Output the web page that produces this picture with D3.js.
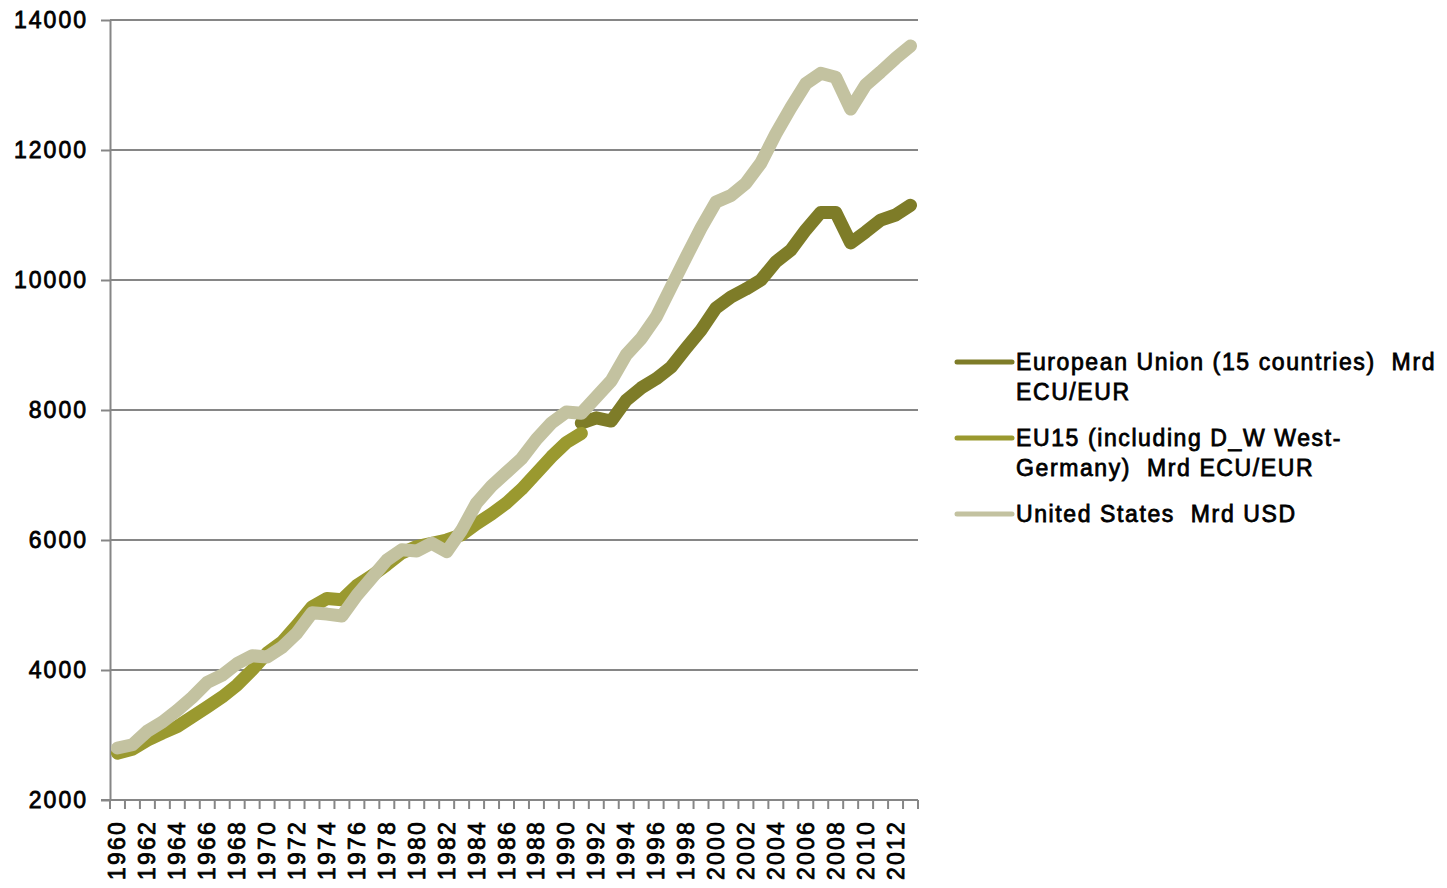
<!DOCTYPE html>
<html><head><meta charset="utf-8">
<script src="https://cdn.jsdelivr.net/npm/d3@7"></script>
<style>html,body{margin:0;padding:0;background:#fff;}svg{display:block;}text{white-space:pre;}</style>
</head><body>
<svg id="chart" width="1447" height="888"></svg>
<script>
const years = d3.range(1960, 2014);
const seriesNames = ["European Union (15 countries)  Mrd ECU/EUR", "EU15 (including D_W West-Germany)  Mrd ECU/EUR", "United States  Mrd USD"];
const legendLines = [["European Union (15 countries)  Mrd", "ECU/EUR"], ["EU15 (including D_W West-", "Germany)  Mrd ECU/EUR"], ["United States  Mrd USD"]];
const colors = ["#7e7c28", "#9a992f", "#c3c2a0"];
// EU (15 countries), 1991-2013
const euYears = d3.range(1991, 2014);
const euValues = [7800, 7880, 7830, 8150, 8340, 8480, 8660, 8950, 9230, 9570, 9740, 9860, 10000, 10280, 10460, 10770, 11040, 11040, 10570, 10740, 10920, 11000, 11150];
// EU15 incl. West Germany, 1960-1991
const eu15Years = d3.range(1960, 1992);
const eu15Values = [2720, 2780, 2920, 3030, 3130, 3280, 3430, 3585, 3770, 4000, 4260, 4430, 4690, 4970, 5100, 5080, 5300, 5450, 5620, 5800, 5900, 5950, 6000, 6080, 6250, 6400, 6570, 6780, 7030, 7280, 7500, 7640];
// United States, 1960-2013
const usValues = [2800, 2850, 3060, 3200, 3380, 3580, 3810, 3920, 4100, 4220, 4200, 4350, 4570, 4880, 4860, 4830, 5150, 5420, 5690, 5850, 5830, 5950, 5820, 6150, 6570, 6830, 7040, 7250, 7550, 7800, 7970, 7950, 8200, 8450, 8850, 9100, 9430, 9890, 10350, 10800, 11200, 11300, 11490, 11800, 12250, 12650, 13020, 13180, 13120, 12630, 13000, 13200, 13410, 13600];
const yTicks = [2000, 4000, 6000, 8000, 10000, 12000, 14000];
const xTickLabels = years.filter(y => (y - 1960) % 2 === 0);

const svg = d3.select("#chart");
const mLeft = 110, mRight = 918, mTop = 20, mBottom = 800;
const x = d3.scaleBand().domain(years).range([mLeft, mRight]);
const y = d3.scaleLinear().domain([2000, 14000]).range([mBottom, mTop]);
const fontFam = "'Liberation Sans', Arial, sans-serif";
const grid = "#868686";
const txtStroke = 0.8;

// gridlines
svg.append("g").selectAll("line").data(yTicks.slice(1)).join("line")
  .attr("x1", mLeft).attr("x2", mRight).attr("y1", d => y(d)).attr("y2", d => y(d))
  .attr("stroke", grid).attr("stroke-width", 2);

// y axis
const yAxis = svg.append("g").attr("transform", `translate(${mLeft},0)`)
  .call(d3.axisLeft(y).tickValues(yTicks).tickSize(9).tickSizeOuter(0).tickPadding(13).tickFormat(d3.format("d")));
yAxis.select(".domain").attr("stroke", grid).attr("stroke-width", 2);
yAxis.selectAll(".tick line").attr("stroke", grid).attr("stroke-width", 2);
yAxis.selectAll(".tick text").attr("font-family", fontFam).attr("font-size", 23)
  .attr("letter-spacing", "2px").attr("fill", "#000").attr("stroke", "#000").attr("stroke-width", txtStroke);

// x axis
const xAxis = svg.append("g").attr("transform", `translate(0,${mBottom})`)
  .call(d3.axisBottom(x).tickValues([]).tickSizeOuter(0));
xAxis.select(".domain").attr("stroke", grid).attr("stroke-width", 2).attr("d", `M${mLeft - 9},0H${mRight}`);
// year boundary ticks
svg.append("g").selectAll("line").data(years.concat([2014])).join("line")
  .attr("x1", d => d === 2014 ? mRight : x(d)).attr("x2", d => d === 2014 ? mRight : x(d))
  .attr("y1", mBottom).attr("y2", mBottom + 9).attr("stroke", grid).attr("stroke-width", 2);
svg.append("g").selectAll("text").data(xTickLabels).join("text")
  .attr("transform", d => `translate(${x(d) + x.bandwidth() / 2},${mBottom + 20}) rotate(-90)`)
  .attr("text-anchor", "end").attr("dominant-baseline", "central")
  .attr("font-family", fontFam).attr("font-size", 23).attr("letter-spacing", "2.2px")
  .attr("fill", "#000").attr("stroke", "#000").attr("stroke-width", txtStroke)
  .text(d => d);

// lines
const cx = yr => x(yr) + x.bandwidth() / 2;
const line = d3.line().x(d => cx(d[0])).y(d => y(d[1]));
const series = [
  euYears.map((yr, i) => [yr, euValues[i]]),
  eu15Years.map((yr, i) => [yr, eu15Values[i]]),
  years.map((yr, i) => [yr, usValues[i]])
];
series.forEach((s, i) => {
  svg.append("path").datum(s).attr("d", line).attr("fill", "none")
    .attr("stroke", colors[i]).attr("stroke-width", 13)
    .attr("stroke-linejoin", "round").attr("stroke-linecap", "round");
});

// legend
const legY = [362, 438, 514];
legendLines.forEach((lines, i) => {
  const g = svg.append("g");
  g.append("line").attr("x1", 957).attr("x2", 1012).attr("y1", legY[i]).attr("y2", legY[i])
    .attr("stroke", colors[i]).attr("stroke-width", 5).attr("stroke-linecap", "round");
  lines.forEach((t, j) => {
    g.append("text").attr("x", 1016).attr("y", legY[i] + j * 30)
      .attr("dominant-baseline", "central")
      .attr("font-family", fontFam).attr("font-size", 23).attr("letter-spacing", "1.6px")
      .attr("fill", "#000").attr("stroke", "#000").attr("stroke-width", txtStroke)
      .text(t);
  });
});
</script>
</body></html>
